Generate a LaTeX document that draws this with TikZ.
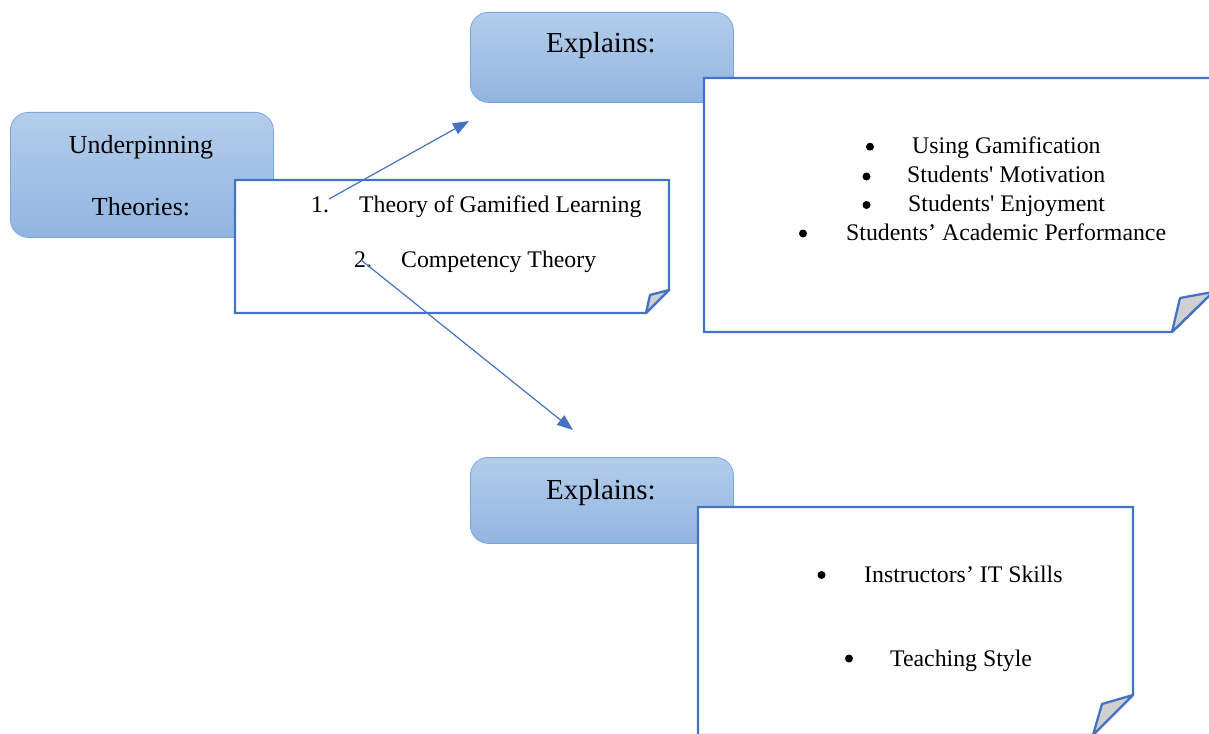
\documentclass[tikz,border=0pt]{standalone}
\usepackage{fontspec}
\setmainfont{Liberation Serif}
\usetikzlibrary{arrows.meta}

\definecolor{boxtop}{HTML}{B3CDEB}
\definecolor{boxbot}{HTML}{92B5E1}
\definecolor{boxline}{HTML}{7AA6DB}
\definecolor{noteline}{HTML}{4472C4}
\definecolor{foldgray}{HTML}{D0D0D0}

% straight apostrophe, without the TeX quote mapping
\newcommand{\sq}{{\addfontfeatures{Ligatures=TeXOff}'}}

\begin{document}
\begin{tikzpicture}[x=1pt,y=-1pt,
  headbox/.style={rectangle, rounded corners=18pt, draw=boxline, line width=0.8pt,
    top color=boxtop, bottom color=boxbot, anchor=north west, inner sep=0pt},
  notepaper/.style={draw=noteline, line width=2.3pt, fill=white, line join=miter},
  notefold/.style={draw=noteline, line width=2.3pt, fill=foldgray, line join=round},
  bodytext/.style={font=\fontsize{23.8}{28}\selectfont, anchor=base west, inner sep=0pt},
  headtext/.style={font=\fontsize{29}{34}\selectfont, anchor=base, inner sep=0pt},
  dot/.style={circle, fill=black, inner sep=0pt, minimum size=8pt},
  arr/.style={draw=noteline, line width=1.2pt, -{Triangle[length=16pt,width=12pt]}}]

\useasboundingbox (0,0) rectangle (1209,733);
\clip (0,0) rectangle (1209,733);

% heading boxes
\node[headbox, minimum width=263pt, minimum height=125pt] (under) at (10,112) {};
\node[headbox, minimum width=263pt, minimum height=90pt] (exptop) at (470,12) {};
\node[headbox, minimum width=263pt, minimum height=86pt] (expbot) at (470,457) {};

\node[font=\fontsize{26}{30}\selectfont, anchor=base, inner sep=0pt] (underA) at (141,153) {Underpinning};
\node[font=\fontsize{26}{30}\selectfont, anchor=base, inner sep=0pt] (underB) at (141,215) {Theories:};
\node[headtext] (exptopt) at (601,53) {Explains:};
\node[headtext] (expbott) at (601,499) {Explains:};

% note with the two theories
\path[notepaper] (235,180) -- (669,180) -- (669,290) -- (646,313) -- (235,313) -- cycle;
\path[notefold] (646,313) -- (650,295) -- (669,290) -- cycle;

% note with the first group of constructs
\path[notepaper] (704,78) -- (1213,78) -- (1213,292) -- (1172,332) -- (704,332) -- cycle;
\path[notefold] (1172,332) -- (1180,298) -- (1213,292) -- cycle;

% note with the second group of constructs
\path[notepaper] (698,507) -- (1133,507) -- (1133,695) -- (1093,735) -- (698,735) -- cycle;
\path[notefold] (1093,735) -- (1102,704) -- (1133,695) -- cycle;

% theories list
\node[bodytext] (n1) at (311,212.5) {1.};
\node[bodytext] (t1) at (359,212.5) {Theory of Gamified Learning};
\node[bodytext] (n2) at (354,267.5) {2.};
\node[bodytext] (t2) at (401,267.5) {Competency Theory};

% first group of constructs
\node[dot] (b1) at (870,146.7) {};
\node[bodytext] (c1) at (912,153) {Using Gamification};
\node[dot] (b2) at (866.5,176.5) {};
\node[bodytext] (c2) at (907,182.5) {Students\sq{} Motivation};
\node[dot] (b3) at (866.5,205) {};
\node[bodytext] (c3) at (908,211.5) {Students\sq{} Enjoyment};
\node[dot] (b4) at (803,233.5) {};
\node[bodytext] (c4) at (846,240.5) {Students’ Academic Performance};

% second group of constructs
\node[dot] (d1) at (821.5,575) {};
\node[bodytext] (e1) at (864,582.5) {Instructors’ IT Skills};
\node[dot] (d2) at (849,658.5) {};
\node[bodytext] (e2) at (890,666.5) {Teaching Style};

% connectors
\coordinate (a1s) at (329,199);
\coordinate (a1e) at (469,121);
\coordinate (a2s) at (361,260);
\coordinate (a2e) at (573,430);
\draw[arr] (a1s) -- (a1e);
\draw[arr] (a2s) -- (a2e);
\end{tikzpicture}
\end{document}
